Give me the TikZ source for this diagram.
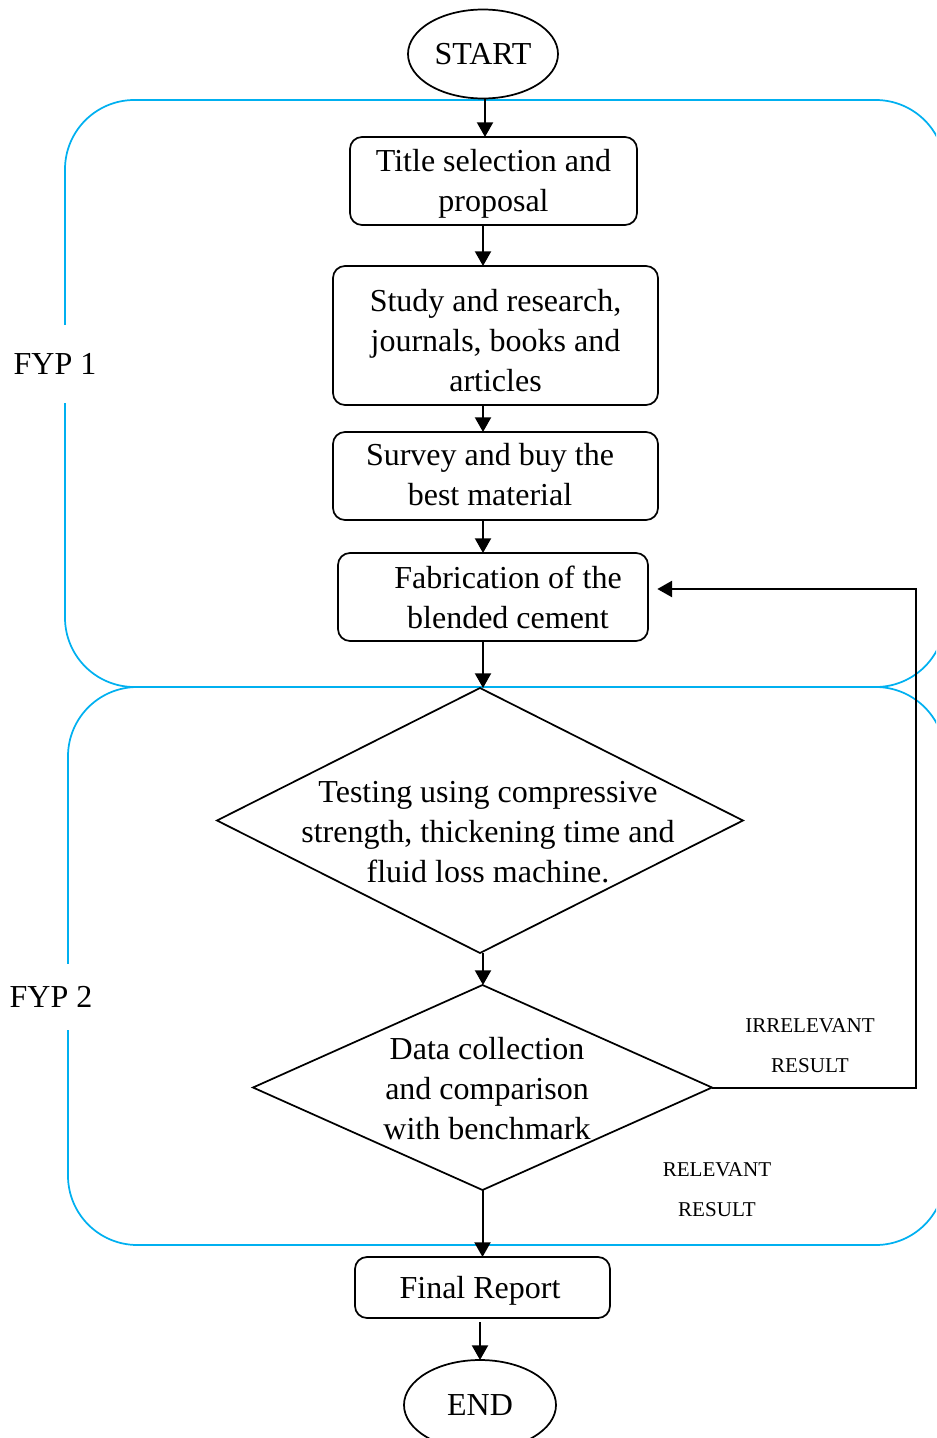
\documentclass[tikz,border=0pt]{standalone}
\usepackage{fontspec}
\setmainfont{Liberation Serif}
\usetikzlibrary{shapes.geometric,arrows.meta}
\definecolor{fypblue}{RGB}{0,176,240}
\begin{document}
\begin{tikzpicture}[x=0.75pt,y=-0.75pt,
 every node/.style={inner sep=0pt, outer sep=0pt},
 flowbox/.style={draw, line width=1.3pt, rounded corners=9pt},
 term/.style={draw, ellipse, line width=1.3pt, font=\fontsize{24}{30}\selectfont},
 decision/.style={draw, diamond, line width=1.3pt},
 maintext/.style={font=\fontsize{24}{30}\selectfont, align=center},
 smalltext/.style={font=\fontsize{15.8}{30}\selectfont, align=center},
 arr/.style={line width=1.5pt, -{Triangle[length=11pt,width=12pt]}},
 phase/.style={draw=fypblue, line width=1.3pt, rounded corners=52pt},
 phaselabel/.style={fill=white, font=\fontsize{24}{30}\selectfont, inner xsep=2pt}
]
\useasboundingbox (0,0) rectangle (936,1438);
\clip (0,0) rectangle (936,1438);

% phase containers
\draw[phase] (65,100) rectangle (945,687);
\draw[phase] (68,687) rectangle (945,1245);
\node[phaselabel, minimum height=58pt] (fyp1) at (55,364) {FYP 1};
\node[phaselabel, minimum height=49pt] (fyp2) at (51,997) {FYP 2};

% nodes
\node[term, minimum width=112.5pt, minimum height=66.75pt] (start) at (483,54) {START};
\node[flowbox, minimum width=215.25pt, minimum height=66pt] (title) at (493.5,181) {};
\node[maintext] (titlet) at (493.5,184) {Title selection and\\proposal};
\node[flowbox, minimum width=243.75pt, minimum height=104.25pt] (study) at (495.5,335.5) {};
\node[maintext] (studyt) at (495.5,341) {Study and research,\\journals, books and\\articles};
\node[flowbox, minimum width=243.75pt, minimum height=66pt] (survey) at (495.5,476) {};
\node[maintext] (surveyt) at (490,475) {Survey and buy the\\best material};
\node[flowbox, minimum width=232.5pt, minimum height=66pt] (fab) at (493,597) {};
\node[maintext] (fabt) at (508,597) {Fabrication of the\\blended cement};
\node[decision, minimum width=394.5pt, minimum height=198.75pt] (d1) at (480,820.5) {};
\node[maintext] (d1t) at (488,832) {Testing using compressive\\strength, thickening time and\\fluid loss machine.};
\node[decision, minimum width=344.25pt, minimum height=153.75pt] (d2) at (482.5,1087.5) {};
\node[maintext] (d2t) at (487,1089) {Data collection\\and comparison\\with benchmark};
\node[flowbox, minimum width=191.25pt, minimum height=45.75pt] (final) at (482.5,1287.5) {};
\node[maintext] (finalt) at (480,1291) {Final Report};
\node[term, minimum width=114pt, minimum height=67.5pt] (end) at (480,1405) {END};

% labels
\node[smalltext] (irr) at (810,1046) {IRRELEVANT\\RESULT};
\node[smalltext] (rel) at (717,1190) {RELEVANT\\RESULT};

% connectors
\coordinate (spine) at (483,0);
\coordinate (loop) at (916,589);
\draw[arr] (start.south -| 485,0) -- (title.north -| 485,0);
\draw[arr] (title.south -| spine) -- (study.north -| spine);
\draw[arr] (study.south -| spine) -- (survey.north -| spine);
\draw[arr] (survey.south -| spine) -- (fab.north -| spine);
\draw[arr] (fab.south -| spine) -- (d1.north -| spine);
\draw[arr] (d1.south -| spine) -- (d2.north -| spine);
\draw[arr] (d2.south) -- (final.north -| d2.south);
\draw[arr] ([yshift=-3pt]final.south -| 480,0) -- (end.north -| 480,0);
\draw[arr, shorten >=7pt] (d2.east) -| (loop) -- (loop -| fab.east);
\end{tikzpicture}
\end{document}
